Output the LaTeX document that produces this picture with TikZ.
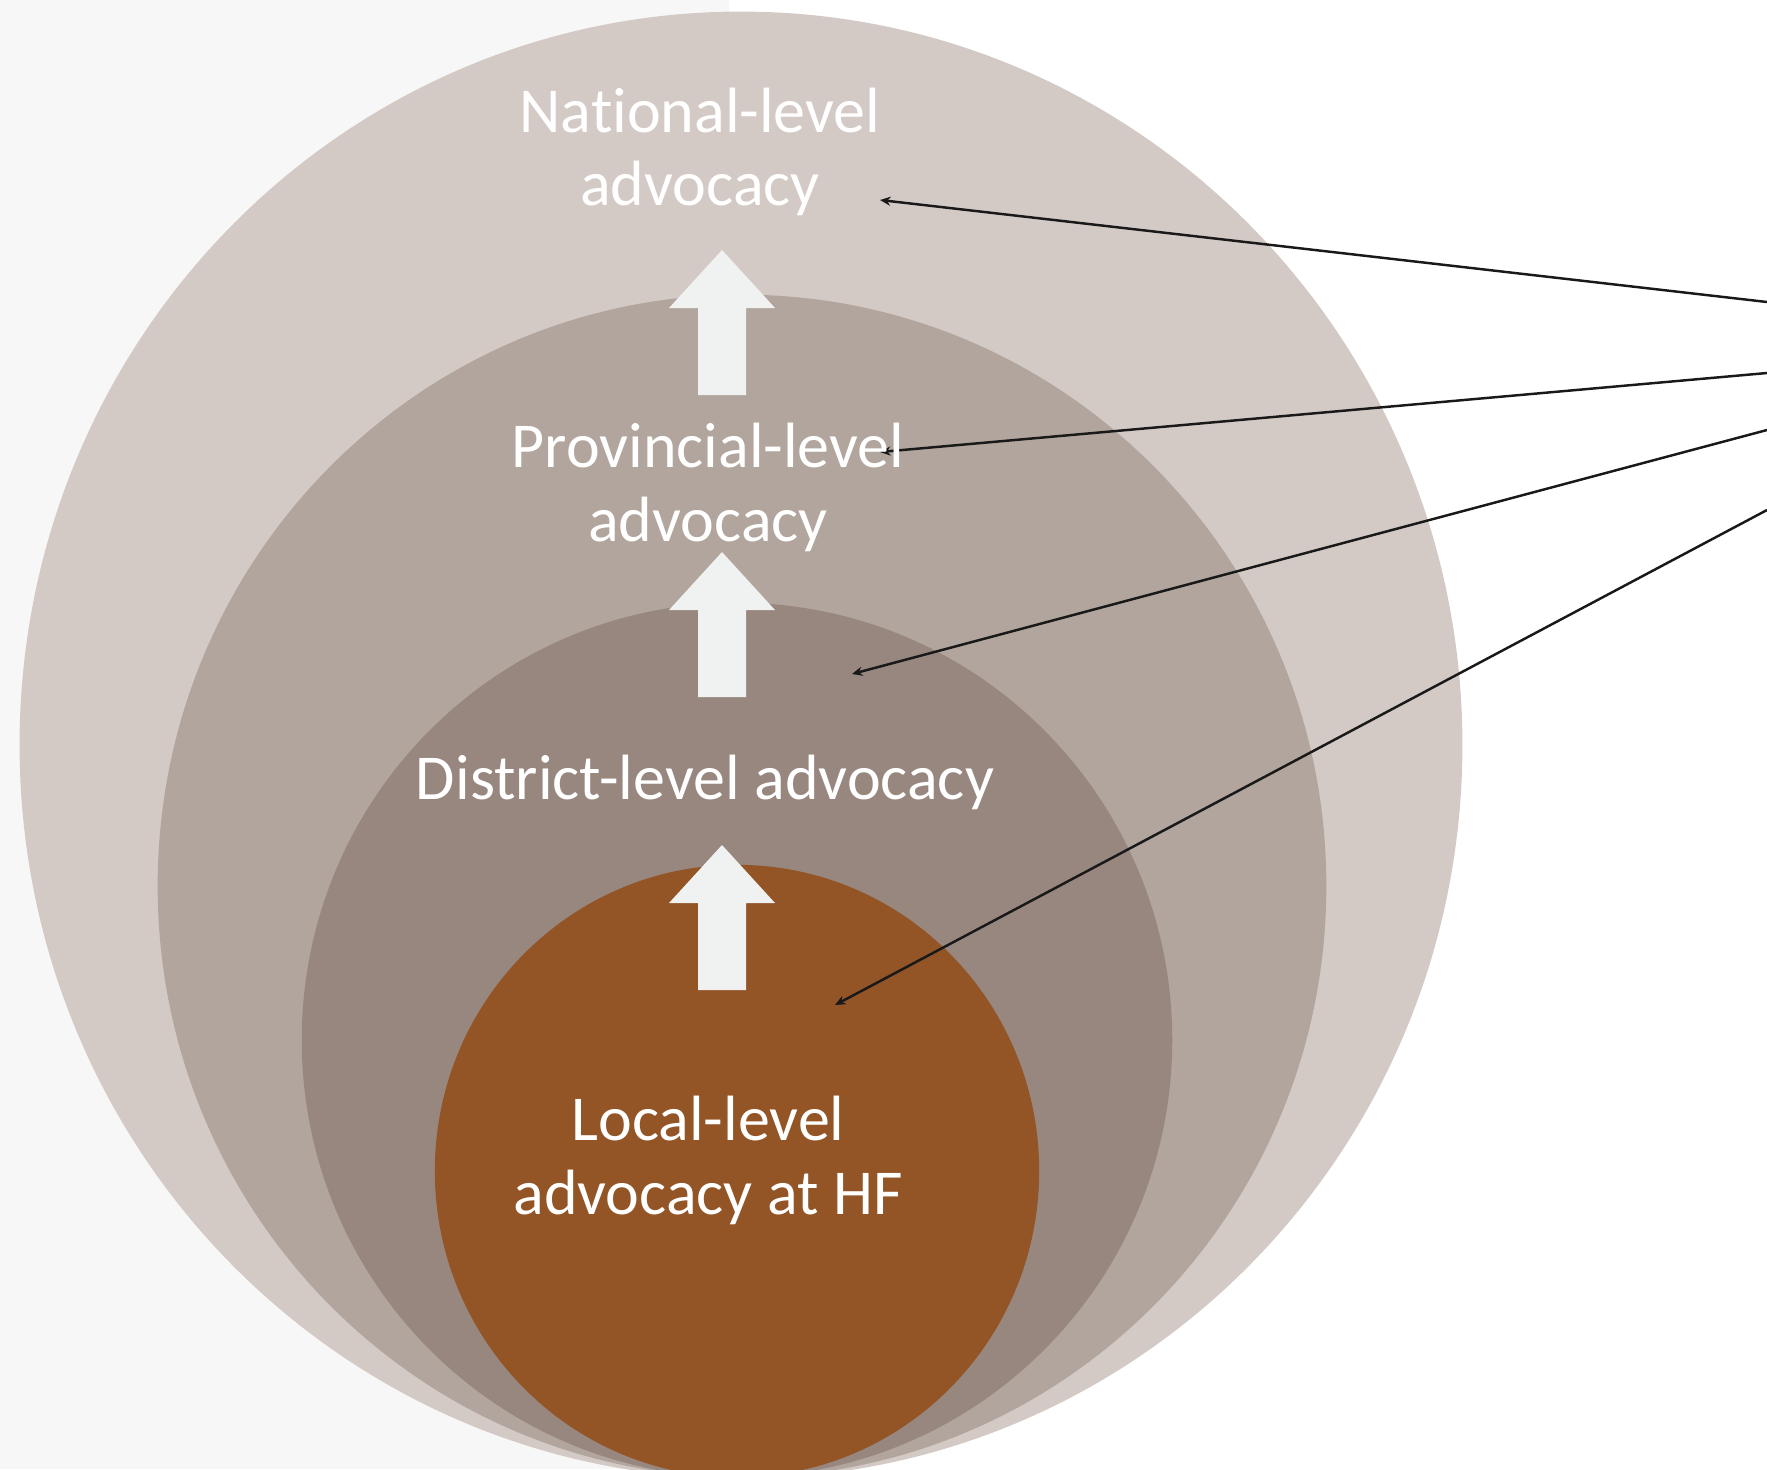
\documentclass[tikz,border=0pt]{standalone}
\usepackage{fontspec}
\setmainfont{Carlito}[Ligatures=NoCommon]
\usetikzlibrary{arrows.meta}

\definecolor{pagegray}{HTML}{F7F7F7}
\definecolor{natcol}{HTML}{D4CAC5}
\definecolor{provcol}{HTML}{B1A59D}
\definecolor{distcol}{HTML}{98877F}
\definecolor{loccol}{HTML}{935426}
\definecolor{upcol}{HTML}{F0F2F1}

\begin{document}
\begin{tikzpicture}[x=0.01cm,y=-0.01cm,
  levellabel/.style={text=white,align=center,inner sep=0pt,
    font=\fontsize{18.2}{21}\selectfont},
  upblock/.style={fill=upcol},
  pointer/.style={line width=0.7pt,color=black!90,-{Stealth[length=3pt,width=2.6pt]}}]
\useasboundingbox (0,0) rectangle (1767,1469);
\clip (0,0) rectangle (1767,1469);
\fill[pagegray] (0,0) rectangle (729,1469);

% nested levels
\fill[natcol] (741,745) ellipse [x radius=7.21cm,y radius=7.33cm];
\fill[provcol] (742,886) ellipse [x radius=5.84cm,y radius=5.91cm];
\fill[distcol] (737,1040) ellipse [x radius=4.35cm,y radius=4.37cm];
\fill[loccol] (737,1171) ellipse [x radius=3.02cm,y radius=3.06cm];

% block arrows
\foreach \t in {250,552,845}
  \fill[upblock] (722,\t) -- (775,\t+58) -- (746,\t+58) -- (746,\t+145)
    -- (698,\t+145) -- (698,\t+58) -- (669,\t+58) -- cycle;

% free ends of the pointers
\coordinate (r1) at (1767,302);
\coordinate (r2) at (1767,373);
\coordinate (r3) at (1767,430);
\coordinate (r4) at (1767,510);
\coordinate (p1) at (880,200);
\coordinate (p2) at (880,452);
\coordinate (p3) at (852,674);
\coordinate (p4) at (835,1005);

\draw[pointer] (r1) -- (p1);
\draw[pointer] (r2) -- (p2);
\draw[pointer] (r3) -- (p3);
\draw[pointer] (r4) -- (p4);

\node[levellabel] (natl) at (700,152) {National-level\\advocacy};
\node[levellabel] (prov) at (708,487) {Provincial-level\\advocacy};
\node[levellabel] (dist) at (705,782) {District-level advocacy};
\node[levellabel] (locl) at (708,1160) {Local-level\\advocacy at HF};
\end{tikzpicture}
\end{document}
